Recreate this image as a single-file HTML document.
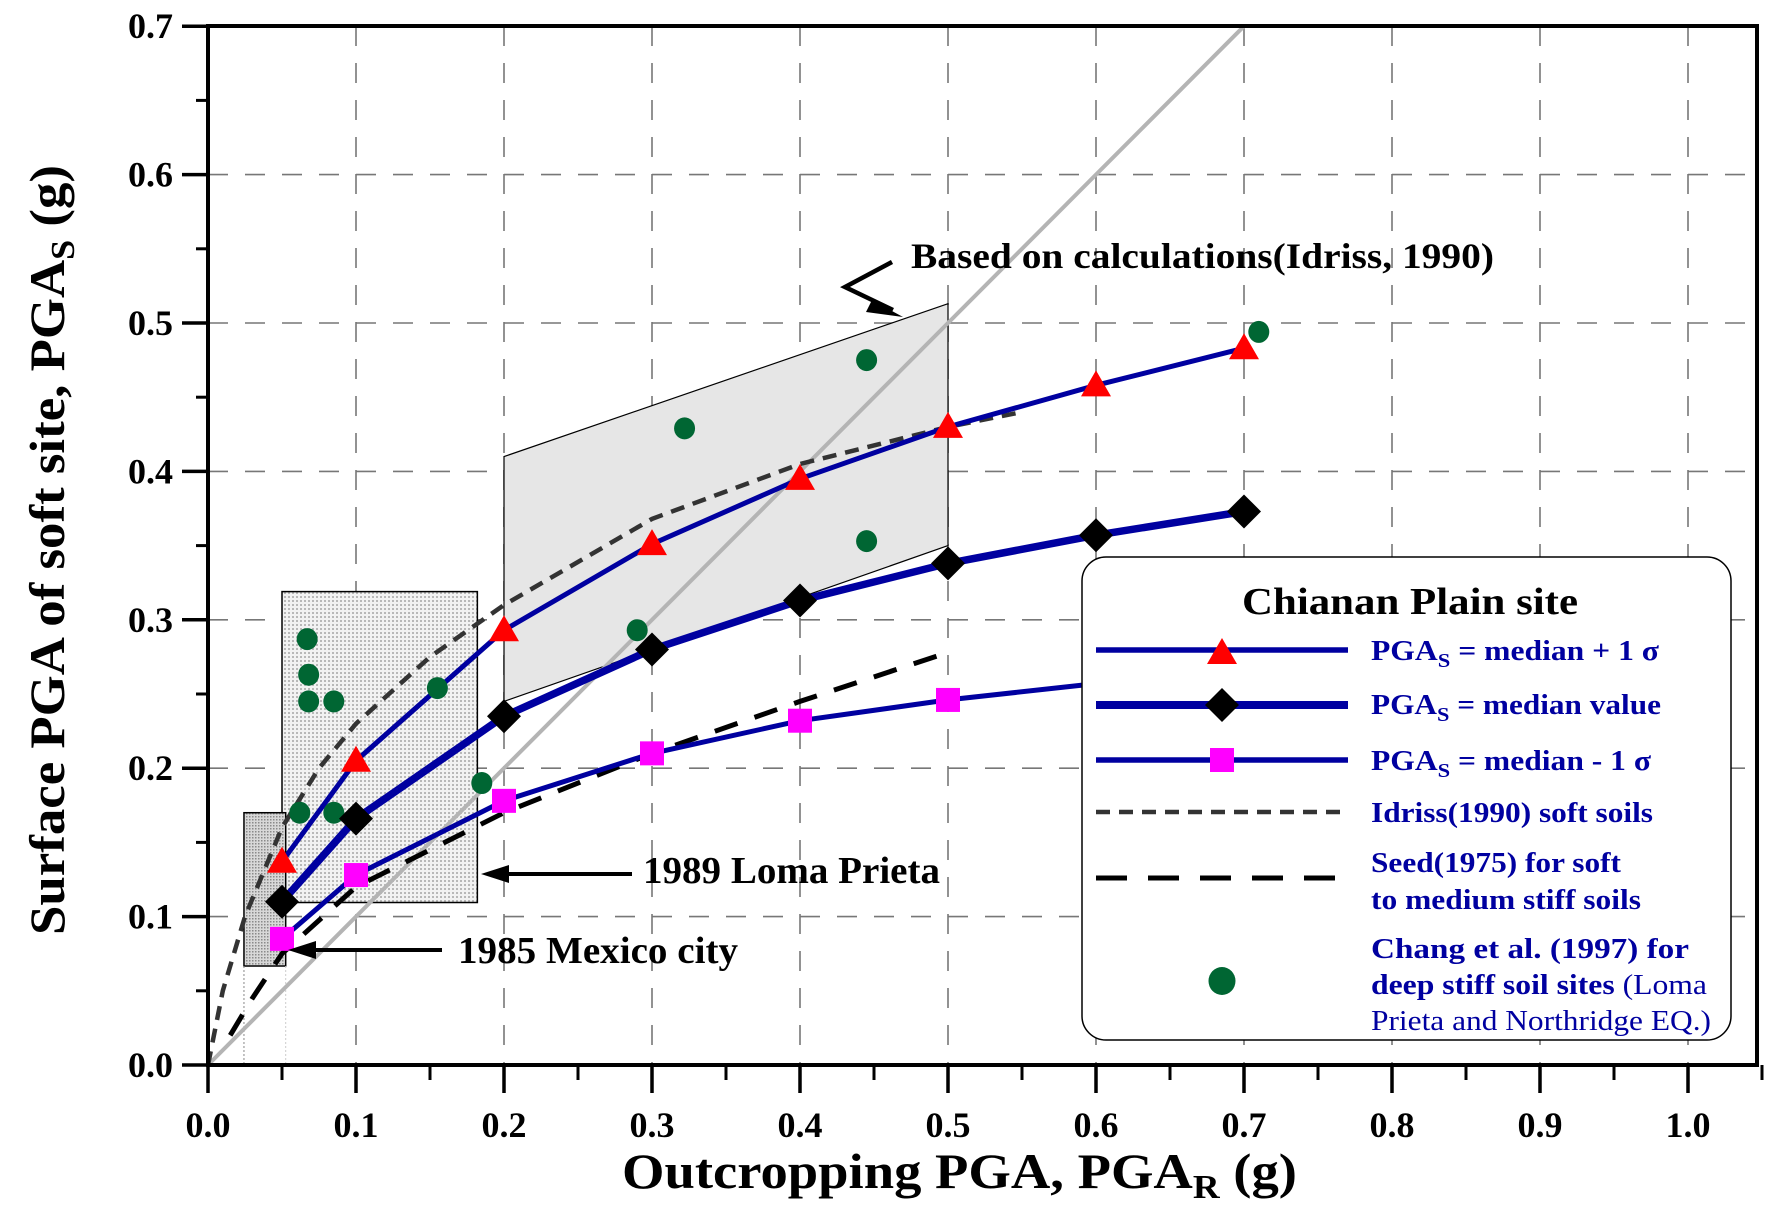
<!DOCTYPE html>
<html><head><meta charset="utf-8"><title>PGA chart</title>
<style>html,body{margin:0;padding:0;background:#fff}svg{display:block}text{font-family:"Liberation Serif",serif;font-weight:bold}</style>
</head><body>
<svg id="chart" width="1787" height="1232" viewBox="0 0 1787 1232" xmlns="http://www.w3.org/2000/svg">
<defs>
<pattern id="dotsLight" width="4" height="4" patternUnits="userSpaceOnUse"><rect width="4" height="4" fill="#f2f2f2"/><rect width="2" height="2" fill="#b8b8b8"/></pattern>
<pattern id="dotsDark" width="3" height="3" patternUnits="userSpaceOnUse"><rect width="3" height="3" fill="#d8d8d8"/><rect width="1.5" height="1.5" fill="#8a8a8a"/></pattern>
</defs>
<g id="plot"></g>
</svg>
<script>
const xTicks=[0.0,0.1,0.2,0.3,0.4,0.5,0.6,0.7,0.8,0.9,1.0];
const yTicks=[0.0,0.1,0.2,0.3,0.4,0.5,0.6,0.7];
const xCats=[0.05,0.1,0.2,0.3,0.4,0.5,0.6,0.7];
const plusSigma=[0.137,0.205,0.293,0.351,0.395,0.43,0.458,0.483];
const medianVal=[0.11,0.166,0.235,0.28,0.313,0.338,0.357,0.373];
const minusSigma=[0.085,0.128,0.178,0.21,0.232,0.246,0.257,0.267];
const idrissX=[0,0.01,0.025,0.05,0.075,0.1,0.15,0.2,0.3,0.4,0.5,0.55];
const idrissY=[0,0.05,0.1,0.16,0.2,0.23,0.275,0.31,0.368,0.405,0.43,0.44];
const seedX=[0.015,0.03,0.05,0.1,0.2,0.3,0.4,0.5];
const seedY=[0.02,0.045,0.075,0.12,0.17,0.21,0.245,0.278];
const changX=[0.062,0.067,0.068,0.068,0.085,0.085,0.155,0.185,0.29,0.322,0.445,0.445,0.71];
const changY=[0.17,0.287,0.263,0.245,0.245,0.17,0.254,0.19,0.293,0.429,0.475,0.353,0.494];

const L=208,T=26,R=1757,B=1065,XS=1480,YS=1484;
const X=v=>L+v*XS, Y=v=>B-v*YS;
const NS='http://www.w3.org/2000/svg';
const g=document.getElementById('plot');
function mk(tag,attrs,parent){const e=document.createElementNS(NS,tag);for(const k in attrs)e.setAttribute(k,attrs[k]);(parent||g).appendChild(e);return e;}
function txt(s,attrs,parent){const e=mk('text',attrs,parent);e.textContent=s;return e;}

const grid=mk('g',{});


for(let i=1;i<=10;i++){mk('line',{x1:X(i/10),x2:X(i/10),y1:T,y2:B,stroke:'#777','stroke-width':1.6,'stroke-dasharray':'20,17'},grid);}
for(let i=1;i<=6;i++){mk('line',{x1:L,x2:R,y1:Y(i/10),y2:Y(i/10),stroke:'#777','stroke-width':1.6,'stroke-dasharray':'20,17'},grid);}

const para=mk('polygon',{points:[[0.2,0.41],[0.5,0.513],[0.5,0.35],[0.2,0.245]].map(p=>X(p[0])+','+Y(p[1])).join(' '),fill:'#e6e6e6',stroke:'#000','stroke-width':1.2});


const loma=mk('rect',{x:X(0.05),y:Y(0.319),width:X(0.182)-X(0.05),height:Y(0.1095)-Y(0.319),fill:'url(#dotsLight)',stroke:'#000','stroke-width':1.5});


const mex=mk('rect',{x:X(0.0243),y:Y(0.17),width:X(0.0525)-X(0.0243),height:Y(0.0667)-Y(0.17),fill:'url(#dotsDark)',stroke:'#000','stroke-width':1.5});


mk('line',{x1:X(0.0243),x2:X(0.0243),y1:Y(0.0667),y2:B,stroke:'#888','stroke-width':1,'stroke-dasharray':'2,2'});
mk('line',{x1:X(0.0525),x2:X(0.0525),y1:Y(0.0667),y2:B,stroke:'#ccc','stroke-width':1,'stroke-dasharray':'2,2'});

const one=mk('line',{x1:X(0),y1:Y(0),x2:X(0.7),y2:Y(0.7),stroke:'#b4b4b4','stroke-width':4});



function path(xs,ys){return xs.map((x,i)=>(i?'L':'M')+X(x).toFixed(1)+','+Y(ys[i]).toFixed(1)).join(' ');}
const idr=mk('path',{d:path(idrissX,idrissY),fill:'none',stroke:'#333','stroke-width':4.5,'stroke-dasharray':'14,9'});


const seed=mk('path',{d:path(seedX,seedY),fill:'none',stroke:'#000','stroke-width':5,'stroke-dasharray':'24,18'});



const BLUE='#0000a0';
const l1=mk('path',{d:path(xCats,minusSigma),fill:'none',stroke:BLUE,'stroke-width':5});


const l2=mk('path',{d:path(xCats,medianVal),fill:'none',stroke:BLUE,'stroke-width':7.5});


const l3=mk('path',{d:path(xCats,plusSigma),fill:'none',stroke:BLUE,'stroke-width':5});



function tri(cx,cy,parent){return mk('polygon',{points:`${cx},${cy-15} ${cx-15},${cy+11} ${cx+15},${cy+11}`,fill:'#ff0000'},parent);}
function dia(cx,cy,parent){return mk('polygon',{points:`${cx},${cy-17} ${cx+17},${cy} ${cx},${cy+17} ${cx-17},${cy}`,fill:'#000'},parent);}
function sq(cx,cy,parent){return mk('rect',{x:cx-12,y:cy-12,width:24,height:24,fill:'#ff00ff'},parent);}
function dot(cx,cy,parent,r){r=r||10.5;return mk('ellipse',{cx:cx,cy:cy,rx:r,ry:r+0.5,fill:'#006633'},parent);}

changX.forEach((x,i)=>{const e=dot(X(x),Y(changY[i]));

});
xCats.forEach((x,i)=>{
 if(x<0.65){const s=sq(X(x),Y(minusSigma[i]));
 
 }
 const d=dia(X(x),Y(medianVal[i]));
 
 
 const t=tri(X(x),Y(plusSigma[i]));
 
 
});

function arrow(x1,y,x2,name){const a=mk('g',{});


mk('line',{x1:x1,y1:y,x2:x2+18,y2:y,stroke:'#000','stroke-width':4},a);
mk('polygon',{points:`${x2},${y} ${x2+28},${y-9} ${x2+28},${y+9}`,fill:'#000'},a);}
arrow(632,874,481,'loma-prieta-arrow');
arrow(442,950,288,'mexico-city-arrow');
const t1=txt('1989 Loma Prieta',{x:643,y:883,'font-size':38,textLength:297,lengthAdjust:'spacingAndGlyphs'});


const t2=txt('1985 Mexico city',{x:458,y:963,'font-size':38,textLength:280,lengthAdjust:'spacingAndGlyphs'});


const chev=mk('g',{});


mk('polyline',{points:'892,262 845,287 893,310',fill:'none',stroke:'#000','stroke-width':4.5},chev);
mk('polygon',{points:'903,317 872,300 866,312',fill:'#000'},chev);
const t3=txt('Based on calculations(Idriss, 1990)',{x:911,y:268,'font-size':36,textLength:583,lengthAdjust:'spacingAndGlyphs'});



const ax=mk('g',{});


mk('rect',{x:L,y:T,width:R-L,height:B-T,fill:'none',stroke:'#000','stroke-width':4},ax);
xTicks.forEach(v=>{mk('line',{x1:X(v),x2:X(v),y1:B,y2:B+28,stroke:'#000','stroke-width':3.5},ax);
 mk('line',{x1:X(v+0.05),x2:X(v+0.05),y1:B,y2:B+15,stroke:'#000','stroke-width':3},ax);
 const e=txt(v.toFixed(1),{x:X(v),y:1137,'font-size':36,'text-anchor':'middle'},ax);
 
 });
yTicks.forEach(v=>{mk('line',{x1:L-26,x2:L,y1:Y(v),y2:Y(v),stroke:'#000','stroke-width':3.5},ax);
 if(v<0.7) mk('line',{x1:L-12,x2:L,y1:Y(v+0.05),y2:Y(v+0.05),stroke:'#000','stroke-width':3},ax);
 const e=txt(v.toFixed(1),{x:173,y:Y(v)+12,'font-size':36,'text-anchor':'end'},ax);
 
 });

const xt=mk('text',{x:622,y:1188,'font-size':50,textLength:675,lengthAdjust:'spacingAndGlyphs'});


xt.innerHTML='Outcropping  PGA,  PGA<tspan font-size="34" dy="10">R</tspan><tspan dy="-10"> (g)</tspan>';
const yt=mk('text',{x:0,y:0,'font-size':50,textLength:770,lengthAdjust:'spacingAndGlyphs',transform:'translate(64,935) rotate(-90)'});


yt.innerHTML='Surface  PGA of soft site, PGA<tspan font-size="34" dy="10">S</tspan><tspan dy="-10"> (g)</tspan>';

const lg=mk('g',{});


mk('rect',{x:1082,y:557,width:649,height:483,rx:24,fill:'#fff',stroke:'#000','stroke-width':1.5},lg);
txt('Chianan Plain site',{x:1410,y:614,'font-size':38,'text-anchor':'middle',textLength:336,lengthAdjust:'spacingAndGlyphs'},lg);
function legText(html,y,w,bold){const e=mk('text',{x:1371,y:y,'font-size':28,fill:BLUE,textLength:w,lengthAdjust:'spacingAndGlyphs'},lg);if(bold===false)e.setAttribute('style','font-weight:normal');e.innerHTML=html;return e;}
const e1=mk('g',{},lg);


mk('line',{x1:1096,x2:1348,y1:650,y2:650,stroke:BLUE,'stroke-width':5.5},e1);tri(1222,653,e1);
legText('PGA<tspan font-size="20" dy="7">S</tspan><tspan dy="-7"> = median + 1 σ</tspan>',660,288);
const e2=mk('g',{},lg);


mk('line',{x1:1096,x2:1348,y1:705,y2:705,stroke:BLUE,'stroke-width':8},e2);dia(1222,705,e2);
legText('PGA<tspan font-size="20" dy="7">S</tspan><tspan dy="-7"> = median value</tspan>',714,290);
const e3=mk('g',{},lg);


mk('line',{x1:1096,x2:1348,y1:760,y2:760,stroke:BLUE,'stroke-width':5.5},e3);sq(1222,760,e3);
legText('PGA<tspan font-size="20" dy="7">S</tspan><tspan dy="-7"> = median - 1 σ</tspan>',770,280);
const e4=mk('g',{},lg);


mk('line',{x1:1096,x2:1348,y1:812,y2:812,stroke:'#333','stroke-width':4.5,'stroke-dasharray':'14,9'},e4);
legText('Idriss(1990) soft soils',822,282);
const e5=mk('g',{},lg);


mk('line',{x1:1096,x2:1340,y1:878,y2:878,stroke:'#000','stroke-width':5,'stroke-dasharray':'31,21'},e5);
legText('Seed(1975) for soft',872,250);
legText('to medium stiff soils',909,270);
const e6=mk('g',{},lg);


dot(1222,981,e6,13.5);
legText('Chang  et  al. (1997) for',958,318);
legText('deep stiff soil sites <tspan style="font-weight:normal">(Loma</tspan>',994,336);
legText('Prieta and Northridge EQ.)',1030,340,false);
</script>
</body></html>
